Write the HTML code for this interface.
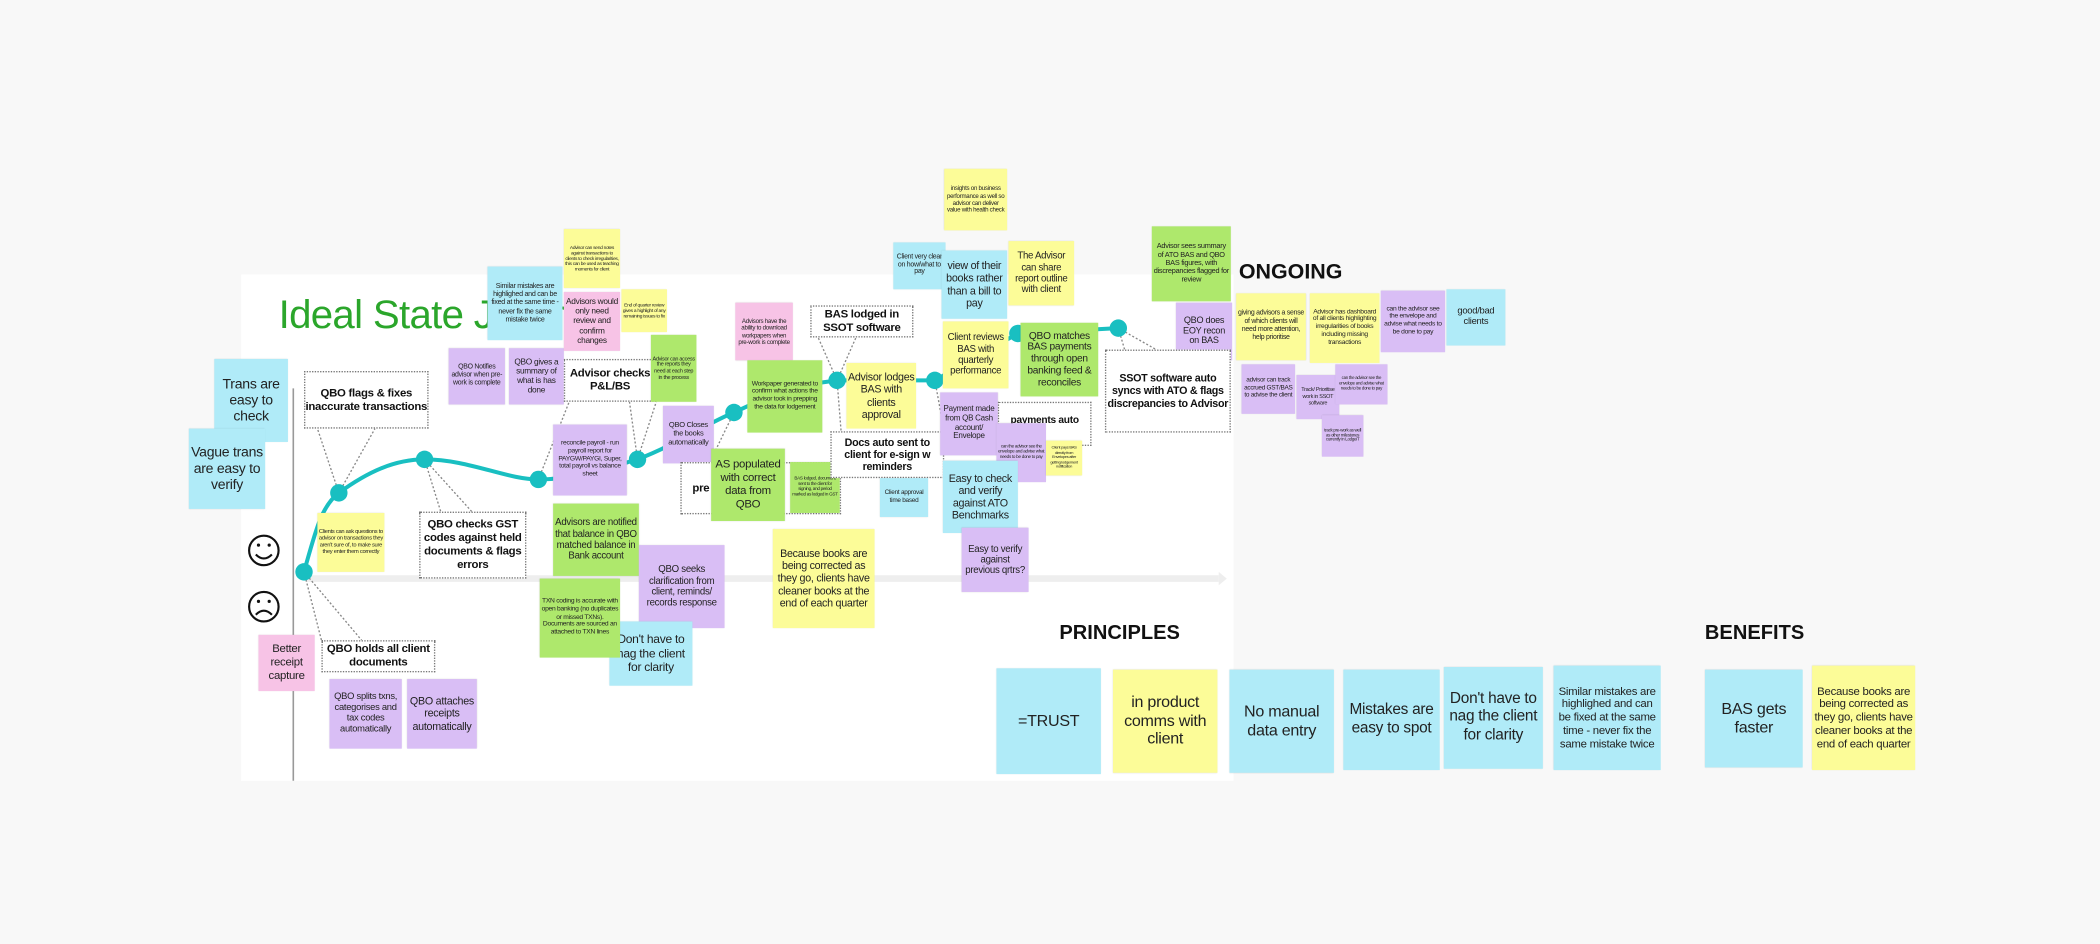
<!DOCTYPE html>
<html><head><meta charset="utf-8"><style>
html,body{margin:0;padding:0;}
body{width:2100px;height:944px;overflow:hidden;background:#f8f8f8;font-family:"Liberation Sans Narrow","Liberation Sans",sans-serif;}
#w{position:absolute;left:0;top:0;width:1568px;height:705px;transform:scale(1.3393);transform-origin:0 0;}
.n{position:absolute;display:flex;align-items:center;justify-content:center;text-align:center;box-sizing:border-box;padding:1px;line-height:1.15;color:#222;box-shadow:0 0 1px rgba(0,0,0,.15);overflow:hidden;letter-spacing:-0.2px;}
.b{background:#b0ebf8}.y{background:#fcfc98}.g{background:#aee86c}.p{background:#d9bef5}.k{background:#f7c3e6}
.d{position:absolute;display:flex;align-items:center;justify-content:center;text-align:center;box-sizing:border-box;border:1.3px dotted #777;background:#fff;font-weight:bold;color:#111;line-height:1.15;overflow:hidden;letter-spacing:-0.2px;}
.h{position:absolute;font-family:"Liberation Sans",sans-serif;font-weight:bold;color:#111;}
</style></head><body><div id="w">
<div style="position:absolute;left:180px;top:205px;width:741px;height:378px;background:#fff"></div>
<div style="position:absolute;left:208px;top:219px;font-family:'Liberation Sans',sans-serif;font-size:30px;color:#2ba62b;white-space:nowrap;letter-spacing:-0.5px">Ideal State Journey</div>
<svg style="position:absolute;left:0;top:0" width="1568" height="705">
<line x1="219" y1="290" x2="219" y2="583" stroke="#999" stroke-width="1.2"/>
<line x1="228" y1="432" x2="910" y2="432" stroke="#eee" stroke-width="5"/>
<polygon points="910,427 916,432 910,437" fill="#eee"/>
<g stroke="#888" stroke-width="1" stroke-dasharray="1.5,1.5" fill="none">
<path d="M253,368 L237,320"/><path d="M253,368 L280,320"/>
<path d="M317,343 L330,385"/><path d="M317,343 L355,385"/>
<path d="M227,427 L240,478"/><path d="M227,427 L270,478"/>
<path d="M402,358 L425,300"/><path d="M476,343 L470,300"/><path d="M476,343 L490,300"/>
<path d="M548,308 L530,345"/><path d="M625,284 L640,250"/><path d="M625,284 L610,250"/>
<path d="M625,284 L628,322"/><path d="M698,284 L705,322"/>
<path d="M835,245 L840,262"/><path d="M835,245 L865,262"/>
</g>
<path d="M227,427 C236,395 240,378 253,368 C275,352 295,343 317,343 C350,343 378,358 402,358 C428,358 452,350 476,343 C505,332 528,316 548,308 L589,289 L625,284 L698,284 L760,249 L835,245" stroke="#19bfc1" stroke-width="3" fill="none"/>
<g fill="#19bfc1"><circle cx="227" cy="427" r="6.5"/><circle cx="253" cy="368" r="6.5"/><circle cx="317" cy="343" r="6.5"/><circle cx="402" cy="358" r="6.5"/><circle cx="476" cy="343" r="6.5"/><circle cx="548" cy="308" r="6.5"/><circle cx="589" cy="289" r="6.5"/><circle cx="625" cy="284" r="6.5"/><circle cx="698" cy="284" r="6.5"/><circle cx="760" cy="249" r="6.5"/><circle cx="835" cy="245" r="6.5"/></g>
<g stroke="#111" stroke-width="1.6" fill="none"><circle cx="197" cy="411" r="11"/><circle cx="197" cy="453" r="11"/>
<path d="M191,414 Q197,420 203,414"/><path d="M191,459 Q197,453 203,459"/></g>
<g fill="#111"><circle cx="193" cy="407" r="1.2"/><circle cx="201" cy="407" r="1.2"/><circle cx="193" cy="449" r="1.2"/><circle cx="201" cy="449" r="1.2"/></g>
</svg>

<div class="n b" style="left:160px;top:268px;width:55px;height:62px;font-size:10.5px">Trans are easy to check</div>
<div class="n b" style="left:141px;top:320px;width:57px;height:60px;font-size:10.5px">Vague trans are easy to verify</div>
<div class="d" style="left:227px;top:277px;width:93px;height:43px;font-size:8.5px">QBO flags &amp; fixes inaccurate transactions</div>
<div class="n y" style="left:237px;top:383px;width:50px;height:44px;font-size:4.3px">Clients can ask questions to advisor on transactions they aren't sure of, to make sure they enter them correctly</div>
<div class="d" style="left:313px;top:382px;width:80px;height:50px;font-size:8.5px">QBO checks GST codes against held documents &amp; flags errors</div>
<div class="n k" style="left:193px;top:474px;width:42px;height:42px;font-size:8.5px">Better receipt capture</div>
<div class="d" style="left:240px;top:478px;width:85px;height:24px;font-size:8.5px">QBO holds all client documents</div>
<div class="n p" style="left:246px;top:507px;width:54px;height:52px;font-size:7px">QBO splits txns, categorises and tax codes automatically</div>
<div class="n p" style="left:304px;top:507px;width:52px;height:52px;font-size:8px">QBO attaches receipts automatically</div>
<div class="n p" style="left:335px;top:260px;width:42px;height:42px;font-size:5.2px">QBO Notifies advisor when pre-work is complete</div>
<div class="n p" style="left:380px;top:260px;width:41px;height:42px;font-size:6.2px">QBO gives a summary of what is has done</div>
<div class="n b" style="left:364px;top:199px;width:56px;height:55px;font-size:5.3px">Similar mistakes are highlighed and can be fixed at the same time - never fix the same mistake twice</div>
<div class="n y" style="left:421px;top:171px;width:42px;height:44px;font-size:3.6px">Advisor can send notes against transactions to clients to check irregularities, this can be used as teaching moments for client</div>
<div class="n k" style="left:421px;top:218px;width:42px;height:44px;font-size:6.2px">Advisors would only need review and confirm changes</div>
<div class="n y" style="left:464px;top:216px;width:34px;height:32px;font-size:3.6px">End of quarter review gives a highlight of any remaining issues to fix</div>
<div class="d" style="left:421px;top:268px;width:69px;height:32px;font-size:8.5px">Advisor checks P&amp;L/BS</div>
<div class="n g" style="left:486px;top:250px;width:34px;height:50px;font-size:4.1px">Advisor can access the reports they need at each step in the process</div>
<div class="n p" style="left:413px;top:317px;width:55px;height:53px;font-size:5px">reconcile payroll - run payroll report for PAYGW/PAYGI, Super, total payroll vs balance sheet</div>
<div class="n p" style="left:495px;top:303px;width:38px;height:43px;font-size:5.6px">QBO Closes the books automatically</div>
<div class="d" style="left:508px;top:345px;width:120px;height:39px;font-size:8.5px;justify-content:flex-start;padding-left:8px">pre</div>
<div class="n g" style="left:413px;top:376px;width:64px;height:54px;font-size:7.2px">Advisors are notified that balance in QBO matched balance in Bank account</div>
<div class="n p" style="left:477px;top:407px;width:64px;height:62px;font-size:7.2px">QBO seeks clarification from client, reminds/ records response</div>
<div class="n b" style="left:455px;top:464px;width:62px;height:48px;font-size:9px">Don't have to nag the client for clarity</div>
<div class="n g" style="left:403px;top:432px;width:60px;height:59px;font-size:5px">TXN coding is accurate with open banking (no duplicates or missed TXNs). Documents are sourced an attached to TXN lines</div>
<div class="n k" style="left:549px;top:226px;width:43px;height:43px;font-size:4.6px">Advisors have the ability to download workpapers when pre-work is complete</div>
<div class="d" style="left:605px;top:228px;width:77px;height:24px;font-size:8.5px">BAS lodged in SSOT software</div>
<div class="n g" style="left:558px;top:269px;width:56px;height:54px;font-size:5px">Workpaper generated to confirm what actions the advisor took in prepping the data for lodgement</div>
<div class="n g" style="left:531px;top:335px;width:55px;height:54px;font-size:8.5px">AS populated with correct data from QBO</div>
<div class="n g" style="left:590px;top:345px;width:37px;height:38px;font-size:3.4px">BAS lodged, document sent to the client for signing, and period marked as lodged in GST</div>
<div class="n y" style="left:632px;top:271px;width:52px;height:49px;font-size:8px">Advisor lodges BAS with clients approval</div>
<div class="d" style="left:620px;top:322px;width:85px;height:35px;font-size:8px">Docs auto sent to client for e-sign w reminders</div>
<div class="n b" style="left:657px;top:357px;width:36px;height:29px;font-size:4.8px">Client approval time based</div>
<div class="n y" style="left:577px;top:395px;width:76px;height:74px;font-size:8px">Because books are being corrected as they go, clients have cleaner books at the end of each quarter</div>
<div class="n y" style="left:705px;top:126px;width:47px;height:46px;font-size:4.6px">insights on business performance as well so advisor can deliver value with health check</div>
<div class="n b" style="left:667px;top:181px;width:39px;height:35px;font-size:5.2px">Client very clear on how/what to pay</div>
<div class="n b" style="left:703px;top:187px;width:49px;height:51px;font-size:8px">view of their books rather than a bill to pay</div>
<div class="n y" style="left:753px;top:180px;width:49px;height:48px;font-size:7.2px">The Advisor can share report outline with client</div>
<div class="n y" style="left:704px;top:240px;width:49px;height:50px;font-size:7.2px">Client reviews BAS with quarterly performance</div>
<div class="n g" style="left:762px;top:241px;width:58px;height:55px;font-size:7.6px">QBO matches BAS payments through open banking feed &amp; reconciles</div>
<div class="d" style="left:745px;top:300px;width:70px;height:33px;font-size:7.6px;align-items:flex-start;padding-top:9px">payments auto</div>
<div class="n p" style="left:702px;top:293px;width:43px;height:47px;font-size:6px">Payment made from QB Cash account/ Envelope</div>
<div class="n p" style="left:744px;top:316px;width:37px;height:44px;font-size:3.4px">can the advisor see the envelope and advise what needs to be done to pay</div>
<div class="n y" style="left:781px;top:329px;width:27px;height:26px;font-size:3px">Client pays BAS directly from Envelopes after getting lodgement notification</div>
<div class="n b" style="left:704px;top:344px;width:56px;height:54px;font-size:8px">Easy to check and verify against ATO Benchmarks</div>
<div class="n p" style="left:718px;top:394px;width:50px;height:48px;font-size:7.2px">Easy to verify against previous qrtrs?</div>
<div class="n g" style="left:860px;top:169px;width:59px;height:56px;font-size:5.5px">Advisor sees summary of ATO BAS and QBO BAS figures, with discrepancies flagged for review</div>
<div class="n p" style="left:878px;top:226px;width:42px;height:43px;font-size:6.8px">QBO does EOY recon on BAS</div>
<div class="d" style="left:825px;top:261px;width:94px;height:62px;font-size:8px">SSOT software auto syncs with ATO &amp; flags discrepancies to Advisor</div>
<div class="h" style="left:925px;top:195px;font-size:16px">ONGOING</div>
<div class="n y" style="left:923px;top:219px;width:52px;height:50px;font-size:5.2px">giving advisors a sense of which clients will need more attention, help prioritise</div>
<div class="n y" style="left:978px;top:219px;width:52px;height:52px;font-size:5px">Advisor has dashboard of all clients highlighting irregularities of books including missing transactions</div>
<div class="n p" style="left:1031px;top:217px;width:48px;height:46px;font-size:5px">can the advisor see the envelope and advise what needs to be done to pay</div>
<div class="n b" style="left:1080px;top:216px;width:44px;height:42px;font-size:7px">good/bad clients</div>
<div class="n p" style="left:927px;top:272px;width:40px;height:37px;font-size:4.8px">advisor can track accrued GST/BAS to advise the client</div>
<div class="n p" style="left:968px;top:280px;width:32px;height:33px;font-size:4.1px">Track/ Prioritise work in SSOT software</div>
<div class="n p" style="left:997px;top:272px;width:39px;height:30px;font-size:3.3px">can the advisor see the envelope and advise what needs to be done to pay</div>
<div class="n p" style="left:987px;top:310px;width:31px;height:31px;font-size:3.3px">track pre-work as well as other milestones currently in LodgeiT</div>
<div class="h" style="left:791px;top:464px;font-size:15px">PRINCIPLES</div>
<div class="h" style="left:1273px;top:464px;font-size:15px">BENEFITS</div>
<div class="n b" style="left:744px;top:499px;width:78px;height:79px;font-size:12px">=TRUST</div>
<div class="n y" style="left:831px;top:500px;width:78px;height:77px;font-size:12px">in product comms with client</div>
<div class="n b" style="left:918px;top:500px;width:78px;height:77px;font-size:12px">No manual data entry</div>
<div class="n b" style="left:1003px;top:500px;width:72px;height:75px;font-size:11.5px">Mistakes are easy to spot</div>
<div class="n b" style="left:1078px;top:498px;width:74px;height:76px;font-size:11.5px">Don't have to nag the client for clarity</div>
<div class="n b" style="left:1160px;top:497px;width:80px;height:78px;font-size:8.5px">Similar mistakes are highlighed and can be fixed at the same time - never fix the same mistake twice</div>
<div class="n b" style="left:1273px;top:500px;width:73px;height:73px;font-size:12px">BAS gets faster</div>
<div class="n y" style="left:1353px;top:497px;width:77px;height:78px;font-size:8.5px">Because books are being corrected as they go, clients have cleaner books at the end of each quarter</div>
</div></body></html>
